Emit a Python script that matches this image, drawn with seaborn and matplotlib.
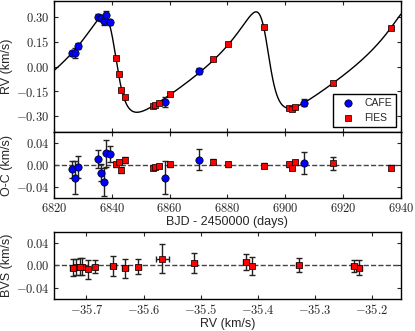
import numpy as np
import matplotlib
matplotlib.use("Agg")
import matplotlib.pyplot as plt
import seaborn as sns
from matplotlib.ticker import FormatStrFormatter, MultipleLocator

# CAFE radial velocities (relative, km/s)
cafe_bjd = [6826.4, 6827.4, 6828.3, 6835.2, 6836.4, 6837.3, 6838.1, 6839.4, 6858.3, 6870.2, 6906.4]
cafe_rv = [0.080, 0.083, 0.126, 0.305, 0.295, 0.280, 0.315, 0.271, -0.217, -0.026, -0.221]
cafe_err = [0.015, 0.030, 0.020, 0.017, 0.015, 0.025, 0.025, 0.015, 0.030, 0.020, 0.020]
cafe_oc = [-0.008, -0.023, -0.004, 0.011, -0.014, -0.031, 0.021, 0.020, -0.023, 0.010, 0.003]

# FIES radial velocities (relative, km/s)
fies_bjd = [6841.3, 6842.4, 6843.3, 6844.5, 6854.2, 6855.1, 6856.3, 6860.2,
            6875.1, 6880.3, 6892.5, 6901.2, 6902.4, 6903.5, 6916.5, 6936.5]
fies_rv = [0.055, -0.046, -0.144, -0.189, -0.242, -0.232, -0.220, -0.167,
           0.045, 0.137, 0.242, -0.254, -0.258, -0.246, -0.102, 0.234]
fies_err = [0.004, 0.004, 0.005, 0.005, 0.004, 0.004, 0.004, 0.005,
            0.005, 0.004, 0.005, 0.005, 0.005, 0.005, 0.012, 0.005]
fies_oc = [0.001, 0.005, -0.009, 0.009, -0.005, -0.004, -0.002, 0.001,
           0.006, 0.001, -0.001, 0.001, -0.005, 0.005, 0.003, -0.005]
# bisector span of the FIES spectra
fies_bvs = [-0.001, 0.004, -0.002, -0.001, -0.002, -0.007, -0.002, -0.005,
            0.006, 0.001, -0.004, -0.003, -0.004, -0.002, 0.012, -0.001]
fies_bvs_err = [0.016, 0.018, 0.014, 0.018, 0.015, 0.017, 0.011, 0.017,
                0.014, 0.012, 0.014, 0.014, 0.015, 0.015, 0.026, 0.011]
rv_systemic = -35.465

# orbit (keplerian + linear trend)
period = 52.75
ecc = 0.48
t_peri = 6893.54
k_amp = 0.2968
omega_deg = 68.8
offset = 0.0323
trend = 0.000471
t_ref = 6880.0


def kepler_rv(tt):
    M = 2 * np.pi * (tt - t_peri) / period
    E = M.copy()
    for _ in range(40):
        E = E - (E - ecc * np.sin(E) - M) / (1 - ecc * np.cos(E))
    nu = 2 * np.arctan2(np.sqrt(1 + ecc) * np.sin(E / 2), np.sqrt(1 - ecc) * np.cos(E / 2))
    return k_amp * np.cos(nu + np.radians(omega_deg)) + offset + trend * (tt - t_ref)


tt = np.linspace(6820, 6940, 2000)
model = kepler_rv(tt)

sns.set_style("ticks")
plt.rcParams.update({
    'font.family': ['Liberation Sans', 'DejaVu Sans'],
    'font.size': 9,
    'mathtext.fontset': 'cm',
    'xtick.direction': 'in', 'ytick.direction': 'in',
    'xtick.top': True, 'ytick.right': True,
    'axes.edgecolor': 'black', 'axes.linewidth': 1.0,
})

fig = plt.figure(figsize=(4.15, 3.31), dpi=100)
ax1 = fig.add_axes([0.130, 0.601, 0.836, 0.396])
ax2 = fig.add_axes([0.130, 0.402, 0.836, 0.199], sharex=ax1)
ax3 = fig.add_axes([0.130, 0.097, 0.836, 0.202])

ebar = dict(fmt='none', ecolor='#222222', elinewidth=1, capsize=2, zorder=2)
blue = dict(marker='o', color='#0000ff', edgecolor='black', linewidth=0.5, s=28, zorder=3)
red = dict(marker='s', color='#ff0000', edgecolor='black', linewidth=0.5, s=24, zorder=3)

# RV curve
sns.lineplot(x=tt, y=model, color='black', lw=1.0, ax=ax1, estimator=None, sort=False)
ax1.errorbar(cafe_bjd, cafe_rv, yerr=cafe_err, **ebar)
ax1.errorbar(fies_bjd, fies_rv, yerr=fies_err, **ebar)
sns.scatterplot(x=cafe_bjd, y=cafe_rv, ax=ax1, label='CAFE', **blue)
sns.scatterplot(x=fies_bjd, y=fies_rv, ax=ax1, label='FIES', **red)
ax1.set_ylim(-0.4, 0.4)
ax1.set_xlim(6820, 6940)
ax1.yaxis.set_major_locator(MultipleLocator(0.15))
ax1.yaxis.set_major_formatter(FormatStrFormatter(r'$%.2f$'))
ax1.set_ylabel('RV (km/s)')
ax1.tick_params(labelbottom=False)
ax1.legend(loc='lower right', frameon=True, fancybox=False, edgecolor='black', fontsize=7.5,
           borderaxespad=0.45, handletextpad=0.6, framealpha=1)

# residuals
ax2.axhline(0, color='#444444', ls='--', lw=1, zorder=1)
ax2.errorbar(cafe_bjd, cafe_oc, yerr=cafe_err, **ebar)
ax2.errorbar(fies_bjd, fies_oc, yerr=fies_err, **ebar)
sns.scatterplot(x=cafe_bjd, y=cafe_oc, ax=ax2, **blue)
sns.scatterplot(x=fies_bjd, y=fies_oc, ax=ax2, **red)
ax2.set_ylim(-0.06, 0.06)
ax2.yaxis.set_major_locator(MultipleLocator(0.04))
ax2.yaxis.set_major_formatter(FormatStrFormatter(r'$%.2f$'))
ax2.xaxis.set_major_locator(MultipleLocator(20))
ax2.xaxis.set_major_formatter(FormatStrFormatter(r'$%d$'))
ax2.set_ylabel('O-C (km/s)')
ax2.set_xlabel('BJD - 2450000 (days)', labelpad=1)

# bisectors vs RV
rv_abs = np.array(fies_rv) + rv_systemic
ax3.axhline(0, color='#444444', ls='--', lw=1, zorder=1)
ax3.errorbar(rv_abs, fies_bvs, xerr=fies_err, yerr=fies_bvs_err, **ebar)
sns.scatterplot(x=rv_abs, y=fies_bvs, ax=ax3, **red)
ax3.set_xlim(-35.757, -35.149)
ax3.set_ylim(-0.06, 0.06)
ax3.yaxis.set_major_locator(MultipleLocator(0.04))
ax3.yaxis.set_major_formatter(FormatStrFormatter(r'$%.2f$'))
ax3.xaxis.set_major_locator(MultipleLocator(0.1))
ax3.xaxis.set_major_formatter(FormatStrFormatter(r'$%.1f$'))
ax3.set_ylabel('BVS (km/s)')
ax3.set_xlabel('RV (km/s)', labelpad=1)

for ax in (ax1, ax2, ax3):
    ax.yaxis.set_label_coords(-0.118, 0.5)
    ax.tick_params(length=3, width=0.8, pad=3, labelsize=9)

fig.savefig('out.png', dpi=100)
